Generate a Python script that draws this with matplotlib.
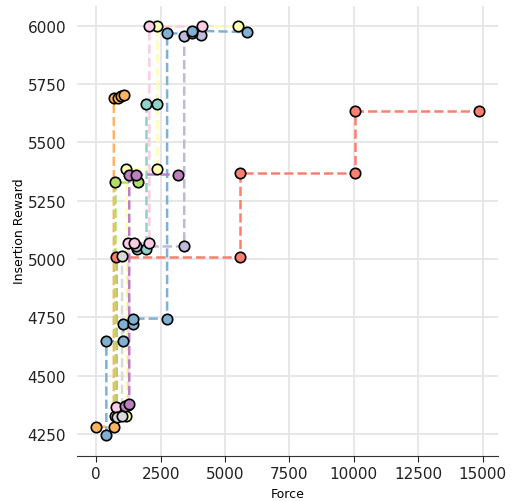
import numpy as np
import matplotlib
matplotlib.use('Agg')
import matplotlib.pyplot as plt

# force vs insertion reward, one staircase per run
teal_x = [1590, 1940, 1940, 2370]
teal_y = [5045, 5045, 5662, 5662]

yellow_x = [1150, 1150, 2350, 2350, 5510]
yellow_y = [4330, 5384, 5384, 5998, 5998]

lavender_x = [1550, 3415, 3415, 4050]
lavender_y = [5054, 5054, 5955, 5958]

red_x = [750, 750, 5600, 5600, 10050, 10050, 14850]
red_y = [4330, 5010, 5010, 5370, 5370, 5635, 5635]

blue_x = [390, 390, 1040, 1040, 1430, 1430, 2750, 2750, 3730, 3730, 5860]
blue_y = [4245, 4648, 4648, 4722, 4722, 4745, 4745, 5966, 5966, 5978, 5972]

orange_x = [0, 680, 680, 830, 960, 1080]
orange_y = [4282, 4282, 5688, 5690, 5697, 5703]

green_x = [720, 720, 1630]
green_y = [4330, 5330, 5330]

pink_x = [780, 1250, 1250, 1480, 2060, 2060, 4110]
pink_y = [4368, 4375, 5068, 5068, 5068, 5996, 5996]

gray_x = [820, 1000, 1000]
gray_y = [4322, 4330, 5012]

purple_x = [1120, 1280, 1280, 1550, 3180]
purple_y = [4372, 4380, 5362, 5362, 5362]

series = [
    (teal_x, teal_y, '#8dd3c7'),
    (yellow_x, yellow_y, '#ffffb3'),
    (lavender_x, lavender_y, '#bebada'),
    (red_x, red_y, '#fb8072'),
    (blue_x, blue_y, '#80b1d3'),
    (orange_x, orange_y, '#fdb462'),
    (green_x, green_y, '#b3de69'),
    (pink_x, pink_y, '#fccde5'),
    (gray_x, gray_y, '#d9d9d9'),
    (purple_x, purple_y, '#bc80bd'),
]

fig = plt.figure(figsize=(5.18, 5.02), dpi=100)
ax = fig.add_axes([0.149, 0.09, 0.812, 0.897])

for xs, ys, c in series:
    ax.plot(xs, ys, linestyle='--', color=c, linewidth=1.8, zorder=2)
for xs, ys, c in series:
    ax.plot(xs, ys, linestyle='none', marker='o', markersize=7.5,
            markerfacecolor=c, markeredgecolor='black', markeredgewidth=1.2, zorder=3)

ax.set_xticks(np.arange(0, 15001, 2500))
ax.set_yticks(np.arange(4250, 6001, 250))
ax.grid(True, color='#e5e5e5', linewidth=1.3, zorder=0)
ax.set_axisbelow(True)
for s in ['top', 'right', 'left']:
    ax.spines[s].set_visible(False)
ax.spines['bottom'].set_color('#333333')
ax.tick_params(axis='y', length=0, labelsize=11, pad=8, colors='#222222')
ax.tick_params(axis='x', length=4, labelsize=11, colors='#222222')
ax.set_xlabel('Force', fontsize=9)
ax.set_ylabel('Insertion Reward', fontsize=9, labelpad=1)

fig.savefig('out.png', dpi=100)
